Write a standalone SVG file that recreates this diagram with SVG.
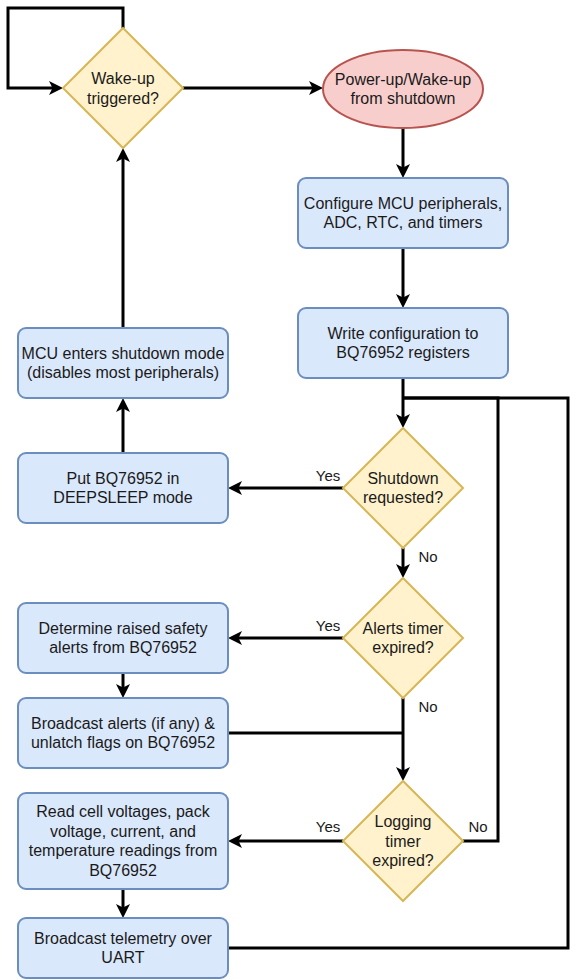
<svg xmlns="http://www.w3.org/2000/svg" width="578" height="980" viewBox="0 0 578 980">
<style>
.box{fill:#dae8fc;stroke:#6c8ebf;stroke-width:2}
.dia{fill:#fff2cc;stroke:#d6b656;stroke-width:2}
.ell{fill:#f8cecc;stroke:#b85450;stroke-width:2}
.t{font-family:"Liberation Sans",Arial,sans-serif;font-size:16px;fill:#1a1a1a;text-anchor:middle}
.lbl{font-family:"Liberation Sans",Arial,sans-serif;font-size:15px;fill:#1a1a1a;text-anchor:middle}
.c{fill:none;stroke:#000;stroke-width:3;stroke-linejoin:miter}
.a{marker-end:url(#arr)}
</style>
<defs>
<marker id="arr" markerUnits="userSpaceOnUse" markerWidth="14" markerHeight="14" viewBox="0 0 14 14" refX="10" refY="7" orient="auto">
<path d="M0,0 L14,7 L0,14 L3.5,7 Z" fill="#000"/>
</marker>
</defs>
<rect width="578" height="980" fill="#fff"/>
<g id="connectors">
<path class="c a" d="M123,28 V8 H8 V88 H59"/>
<path class="c a" d="M183,88 H319"/>
<path class="c a" d="M403,128 V174"/>
<path class="c a" d="M403,248 V304"/>
<path class="c a" d="M403,378 V424"/>
<path class="c a" d="M343,488 H232"/>
<path class="c a" d="M403,548 V574"/>
<path class="c a" d="M123,453 V402"/>
<path class="c a" d="M123,328 V152"/>
<path class="c a" d="M343,638 H232"/>
<path class="c a" d="M403,698 V777"/>
<path class="c a" d="M123,673 V694"/>
<path class="c" d="M228,733 H403"/>
<path class="c a" d="M343,841 H232"/>
<path class="c" d="M463,841 H498 V398 H403"/>
<path class="c" d="M228,948 H568 V398 H403"/>
<path class="c a" d="M123,889 V914"/>
<text class="lbl" x="328" y="481">Yes</text>
<text class="lbl" x="428" y="562">No</text>
<text class="lbl" x="328" y="631">Yes</text>
<text class="lbl" x="428" y="712">No</text>
<text class="lbl" x="328" y="832">Yes</text>
<text class="lbl" x="478" y="832">No</text>
</g>
<g id="wake">
<path class="dia" d="M123,28 L183,88 L123,148 L63,88 Z"/>
<text class="t" x="123" y="84">Wake-up</text>
<text class="t" x="123" y="103.5">triggered?</text>
</g>
<g id="start">
<ellipse class="ell" cx="403" cy="89" rx="80" ry="39"/>
<text class="t" x="403" y="84.5">Power-up/Wake-up</text>
<text class="t" x="403" y="104">from shutdown</text>
</g>
<g id="configure">
<rect class="box" x="298" y="178" width="210" height="70" rx="8"/>
<text class="t" x="403" y="208.75">Configure MCU peripherals,</text>
<text class="t" x="403" y="228.25">ADC, RTC, and timers</text>
</g>
<g id="writecfg">
<rect class="box" x="298" y="308" width="210" height="70" rx="8"/>
<text class="t" x="403" y="338.75">Write configuration to</text>
<text class="t" x="403" y="358.25">BQ76952 registers</text>
</g>
<g id="shutdownq">
<path class="dia" d="M403,428 L463,488 L403,548 L343,488 Z"/>
<text class="t" x="403" y="483.75">Shutdown</text>
<text class="t" x="403" y="503.25">requested?</text>
</g>
<g id="deepsleep">
<rect class="box" x="18" y="453" width="210" height="70" rx="8"/>
<text class="t" x="123" y="483.75">Put BQ76952 in</text>
<text class="t" x="123" y="503.25">DEEPSLEEP mode</text>
</g>
<g id="mcushutdown">
<rect class="box" x="18" y="328" width="210" height="70" rx="8"/>
<text class="t" x="123" y="358.75">MCU enters shutdown mode</text>
<text class="t" x="123" y="378.25">(disables most peripherals)</text>
</g>
<g id="alertsq">
<path class="dia" d="M403,578 L463,638 L403,698 L343,638 Z"/>
<text class="t" x="403" y="633.75">Alerts timer</text>
<text class="t" x="403" y="653.25">expired?</text>
</g>
<g id="determine">
<rect class="box" x="18" y="603" width="210" height="70" rx="8"/>
<text class="t" x="123" y="633.75">Determine raised safety</text>
<text class="t" x="123" y="653.25">alerts from BQ76952</text>
</g>
<g id="bcastalerts">
<rect class="box" x="18" y="698" width="210" height="70" rx="8"/>
<text class="t" x="123" y="728.75">Broadcast alerts (if any) &amp;</text>
<text class="t" x="123" y="748.25">unlatch flags on BQ76952</text>
</g>
<g id="loggingq">
<path class="dia" d="M403,781 L463,841 L403,901 L343,841 Z"/>
<text class="t" x="403" y="827">Logging</text>
<text class="t" x="403" y="846.5">timer</text>
<text class="t" x="403" y="866">expired?</text>
</g>
<g id="readcells">
<rect class="box" x="18" y="793" width="210" height="96" rx="8"/>
<text class="t" x="123" y="817.25">Read cell voltages, pack</text>
<text class="t" x="123" y="836.75">voltage, current, and</text>
<text class="t" x="123" y="856.25">temperature readings from</text>
<text class="t" x="123" y="875.75">BQ76952</text>
</g>
<g id="telemetry">
<rect class="box" x="18" y="918" width="210" height="60" rx="8"/>
<text class="t" x="123" y="943.75">Broadcast telemetry over</text>
<text class="t" x="123" y="963.25">UART</text>
</g>
</svg>
